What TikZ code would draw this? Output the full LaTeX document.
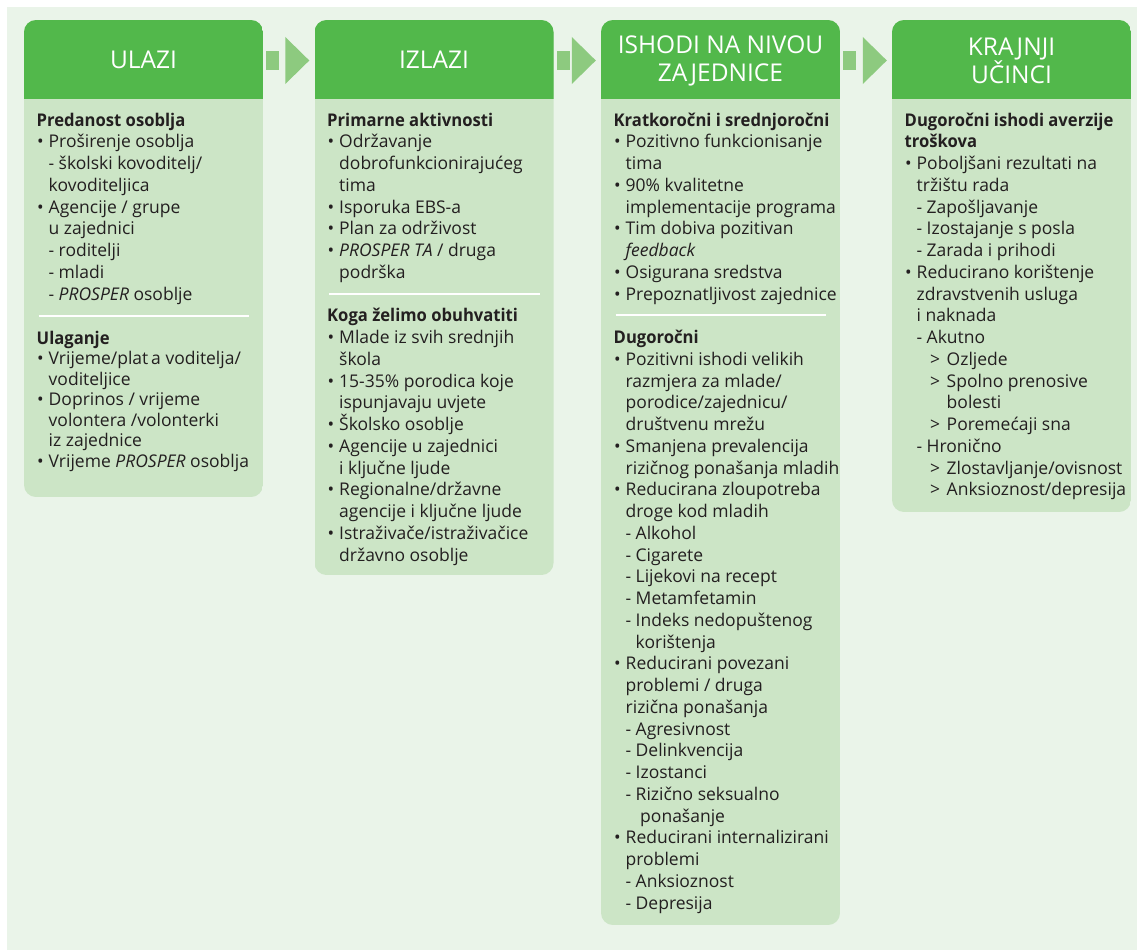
\documentclass[tikz,border=0pt]{standalone}
\usepackage{fontspec}
\setmainfont{Open Sans}[BoldFeatures={FakeStretch=0.95}]
\usetikzlibrary{calc}

\definecolor{bgc}{HTML}{EAF4E9}
\definecolor{hdc}{HTML}{52B84B}
\definecolor{bdc}{HTML}{CCE5C6}
\definecolor{arc}{HTML}{8DCA7F}
\definecolor{txc}{HTML}{231F20}

% line types inside a column text block
\newcommand\Hd[1]{\textbf{#1}\par}
\newcommand\Bu[1]{\hspace*{0.5pt}\makebox[11.5pt][l]{\textbullet}#1\par}
\newcommand\Co[1]{\hspace*{12pt}#1\par}
\newcommand\Da[1]{\hspace*{12pt}\makebox[10pt][l]{-}#1\par}
\newcommand\Dc[1]{\hspace*{22pt}#1\par}
\newcommand\Gt[1]{\hspace*{25.5pt}\makebox[16.5pt][l]{>}#1\par}
\newcommand\Gc[1]{\hspace*{42pt}#1\par}
\newcommand\Ind[2]{\hspace*{#1}#2\par}

\newcommand\bodyfont{\fontsize{17.5}{21.75}\selectfont}
\newcommand\tightfont{\fontsize{17.5}{20.5}\selectfont}

\tikzset{
  hdr/.style={minimum width=239pt, minimum height=79pt, inner sep=0pt,
    text=white, align=center, font=\fontsize{24.5}{28}\selectfont},
  txt/.style={anchor=base west, inner sep=0pt, text=txc},
  sep/.style={draw=white, line width=2pt},
  arr/.style={fill=arc}
}

\begin{document}
\begin{tikzpicture}[x=1pt, y=-1pt]
\useasboundingbox (0,0) rectangle (1137,950);
\fill[white] (0,0) rectangle (1137,950);
\fill[bgc] (7,7) rectangle (1137,950);

% column panels: green head, pale body, rounded outer corners
\foreach \L/\B in {24/497, 314.5/575, 601/925, 892/512} {
  \begin{scope}
    \clip[rounded corners=12pt] (\L,20) rectangle (\L+239,\B);
    \fill[bdc] (\L,20) rectangle (\L+239,\B);
    \fill[hdc] (\L,20) rectangle (\L+239,99);
  \end{scope}
}

% headings
\node[hdr] (h1) at (143.5,59.5) {ULAZI};
\node[hdr] (h2) at (434,59.5) {IZLAZI};
\node[hdr] (h3) at (720.5,61) {ISHODI NA NIVOU\\ZAJEDNICE};
\node[hdr] (h4) at (1011.5,61) {KRAJNJI\\UČINCI};

% arrows between headings
\foreach \a/\b in {h1/h2, h2/h3, h3/h4} {
  \fill[arr] ($(\a.east |- h1.center)+(3,-8)$) rectangle ($(\a.east |- h1.center)+(16,10.5)$);
  \fill[arr] ($(\b.west |- h1.center)+(-29,-22.5)$) -- ($(\b.west |- h1.center)+(-5,1)$)
    -- ($(\b.west |- h1.center)+(-29,24.5)$) -- cycle;
}

% separators
\draw[sep] (38.5,316) -- (249,316);
\draw[sep] (329,293.5) -- (539.5,293.5);
\draw[sep] (615.5,315) -- (826,315);

% column 1
\node[txt] (s1a) at (36.5,126) {\parbox[t]{230pt}{\bodyfont
\Hd{Predanost osoblja}
\Bu{Proširenje osoblja}
\Da{školski kovoditelj/}
\Co{kovoditeljica}
\Bu{Agencije / grupe}
\Co{u zajednici}
\Da{roditelji}
\Da{mladi}
\Da{\textit{PROSPER} osoblje}}};
\node[txt] (s1b) at (36.5,344) {\parbox[t]{230pt}{\tightfont
\Hd{Ulaganje}
\Bu{Vrijeme/plat\,a voditelja/}
\Co{voditeljice}
\Bu{Doprinos / vrijeme}
\Co{volontera /volonterki}
\Co{iz zajednice}
\Bu{Vrijeme \textit{PROSPER} osoblja}}};

% column 2
\node[txt] (s2a) at (327,126) {\parbox[t]{230pt}{\bodyfont
\Hd{Primarne aktivnosti}
\Bu{Održavanje}
\Co{dobrofunkcionirajućeg}
\Co{tima}
\Bu{Isporuka EBS-a}
\Bu{Plan za održivost}
\Bu{\textit{PROSPER TA} / druga}
\Co{podrška}}};
\node[txt] (s2b) at (327,321.75) {\parbox[t]{230pt}{\bodyfont
\Hd{Koga želimo obuhvatiti}
\Bu{Mlade iz svih srednjih}
\Co{škola}
\Bu{15-35\% porodica koje}
\Co{ispunjavaju uvjete}
\Bu{Školsko osoblje}
\Bu{Agencije u zajednici}
\Co{i ključne ljude}
\Bu{Regionalne/državne}
\Co{agencije i ključne ljude}
\Bu{Istraživače/istraživačice}
\Co{državno osoblje}}};

% column 3
\node[txt] (s3a) at (613.5,126) {\parbox[t]{230pt}{\bodyfont
\Hd{Kratkoročni i srednjoročni}
\Bu{Pozitivno funkcionisanje}
\Co{tima}
\Bu{90\% kvalitetne}
\Co{implementacije programa}
\Bu{Tim dobiva pozitivan}
\Co{\textit{feedback}}
\Bu{Osigurana sredstva}
\Bu{Prepoznatljivost zajednice}}};
\node[txt] (s3b) at (613.5,343.5) {\parbox[t]{230pt}{\bodyfont
\Hd{Dugoročni}
\Bu{Pozitivni ishodi velikih}
\Co{razmjera za mlade/}
\Co{porodice/zajednicu/}
\Co{društvenu mrežu}
\Bu{Smanjena prevalencija}
\Co{rizičnog ponašanja mladih}
\Bu{Reducirana zloupotreba}
\Co{droge kod mladih}
\Da{Alkohol}
\Da{Cigarete}
\Da{Lijekovi na recept}
\Da{Metamfetamin}
\Da{Indeks nedopuštenog}
\Dc{korištenja}
\Bu{Reducirani povezani}
\Co{problemi / druga}
\Co{rizična ponašanja}
\Da{Agresivnost}
\Da{Delinkvencija}
\Da{Izostanci}
\Da{Rizično seksualno}
\Ind{26.5pt}{ponašanje}
\Bu{Reducirani internalizirani}
\Co{problemi}
\Da{Anksioznost}
\Da{Depresija}}};

% column 4
\node[txt] (s4) at (904.5,126) {\parbox[t]{230pt}{\bodyfont
\Hd{Dugoročni ishodi averzije}
\Hd{troškova}
\Bu{Poboljšani rezultati na}
\Co{tržištu rada}
\Da{Zapošljavanje}
\Da{Izostajanje s posla}
\Da{Zarada i prihodi}
\Bu{Reducirano korištenje}
\Co{zdravstvenih usluga}
\Co{i naknada}
\Da{Akutno}
\Gt{Ozljede}
\Gt{Spolno prenosive}
\Gc{bolesti}
\Gt{Poremećaji sna}
\Da{Hronično}
\Gt{Zlostavljanje/ovisnost}
\Gt{Anksioznost/depresija}}};
\end{tikzpicture}
\end{document}
